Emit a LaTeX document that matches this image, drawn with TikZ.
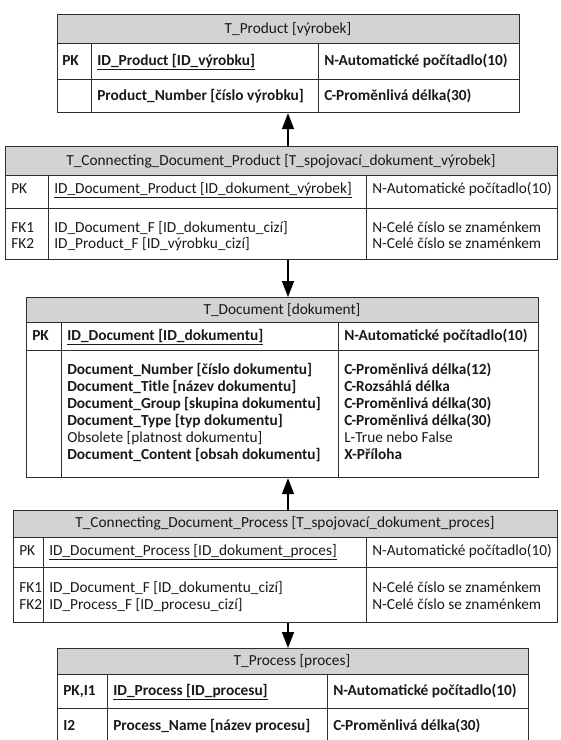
\documentclass[tikz,border=0pt]{standalone}
\usepackage{fontspec}
\setmainfont{Carlito}
\usetikzlibrary{arrows.meta}
\usepackage{xcolor}
\definecolor{headGray}{RGB}{211,211,211}
\definecolor{lineGray}{RGB}{45,45,45}
\definecolor{txtGray}{RGB}{25,25,25}
\newcommand{\tabfont}{\fontsize{11.5}{13}\selectfont}

\tikzset{
  frame/.style={draw=lineGray, line width=0.9pt, inner sep=0pt, anchor=north west},
  grid/.style={draw=lineGray, line width=0.75pt},
  head/.style={anchor=base, inner sep=0pt, text=txtGray, font=\tabfont},
  cell/.style={anchor=base west, inner sep=0pt, text=txtGray, font=\tabfont},
  cellb/.style={cell, font=\tabfont\bfseries},
  rel/.style={-{Triangle[width=9pt,length=12pt]}, line width=1.1pt, draw=black}
}

\begin{document}
\begin{tikzpicture}[x=0.75pt, y=-0.75pt]
    \useasboundingbox (0,0) rectangle (561,740);
    \clip (0,0) rectangle (561,740);
    \coordinate (ax) at (288,0);

    % T_Product
    \fill[headGray] (57,14) rectangle (519,43);
    \node[frame, minimum width=462*0.75pt, minimum height=98*0.75pt] (prod) at (57,14) {};
    \draw[grid] (57,43) -- (519,43) (57,79) -- (519,79) (91,43) -- (91,112) (318,43) -- (318,112);
    \node[head] (prodH) at (288,33) {T\_Product [výrobek]};
    \node[cellb] (prodPK) at (62,65) {PK};
    \node[cellb] (prodId) at (97,65) {\underline{ID\_Product [ID\_výrobku]}};
    \node[cellb] (prodIdT) at (324,65) {N-Automatické počítadlo(10)};
    \node[cellb] (prodNo) at (97,100) {Product\_Number [číslo výrobku]};
    \node[cellb] (prodNoT) at (324,100) {C-Proměnlivá délka(30)};

    % T_Connecting_Document_Product
    \fill[headGray] (5,146) rectangle (557,175);
    \node[frame, minimum width=552*0.75pt, minimum height=113*0.75pt] (cdp) at (5,146) {};
    \draw[grid] (5,175) -- (557,175) (5,208) -- (557,208) (48,175) -- (48,259) (366,175) -- (366,259);
    \node[head] (cdpH) at (281,165) {T\_Connecting\_Document\_Product [T\_spojovací\_dokument\_výrobek]};
    \node[cell] (cdpPK) at (11,193) {PK};
    \node[cell] (cdpId) at (54,193) {\underline{ID\_Document\_Product [ID\_dokument\_výrobek]}};
    \node[cell] (cdpIdT) at (372,193) {N-Automatické počítadlo(10)};
    \node[cell] (cdpFK1) at (11,232) {FK1};
    \node[cell] (cdpFK2) at (11,248) {FK2};
    \node[cell] (cdpDoc) at (54,232) {ID\_Document\_F [ID\_dokumentu\_cizí]};
    \node[cell] (cdpPrd) at (54,248) {ID\_Product\_F [ID\_výrobku\_cizí]};
    \node[cell] (cdpDocT) at (372,232) {N-Celé číslo se znaménkem};
    \node[cell] (cdpPrdT) at (372,248) {N-Celé číslo se znaménkem};

    % T_Document
    \fill[headGray] (26,297) rectangle (538,322);
    \node[frame, minimum width=512*0.75pt, minimum height=180*0.75pt] (doc) at (26,297) {};
    \draw[grid] (26,322) -- (538,322) (26,350) -- (538,350) (61,322) -- (61,477) (338,322) -- (338,477);
    \node[head] (docH) at (282,314) {T\_Document [dokument]};
    \node[cellb] (docPK) at (32,340) {PK};
    \node[cellb] (docId) at (67,340) {\underline{ID\_Document [ID\_dokumentu]}};
    \node[cellb] (docIdT) at (344,340) {N-Automatické počítadlo(10)};
    \node[cellb] (docNo) at (67,374) {Document\_Number [číslo dokumentu]};
    \node[cellb] (docNoT) at (344,374) {C-Proměnlivá délka(12)};
    \node[cellb] (docTi) at (67,391) {Document\_Title [název dokumentu]};
    \node[cellb] (docTiT) at (344,391) {C-Rozsáhlá délka};
    \node[cellb] (docGr) at (67,408) {Document\_Group [skupina dokumentu]};
    \node[cellb] (docGrT) at (344,408) {C-Proměnlivá délka(30)};
    \node[cellb] (docTy) at (67,425) {Document\_Type [typ dokumentu]};
    \node[cellb] (docTyT) at (344,425) {C-Proměnlivá délka(30)};
    \node[cell] (docOb) at (67,442) {Obsolete [platnost dokumentu]};
    \node[cell] (docObT) at (344,442) {L-True nebo False};
    \node[cellb] (docCo) at (67,459) {Document\_Content [obsah dokumentu]};
    \node[cellb] (docCoT) at (344,459) {X-Příloha};

    % T_Connecting_Document_Process
    \fill[headGray] (13,510) rectangle (557,537);
    \node[frame, minimum width=544*0.75pt, minimum height=112*0.75pt] (cdr) at (13,510) {};
    \draw[grid] (13,537) -- (557,537) (13,567) -- (557,567) (43,537) -- (43,622) (366,537) -- (366,622);
    \node[head] (cdrH) at (285,527) {T\_Connecting\_Document\_Process [T\_spojovací\_dokument\_proces]};
    \node[cell] (cdrPK) at (19,555) {PK};
    \node[cell] (cdrId) at (49,555) {\underline{ID\_Document\_Process [ID\_dokument\_proces]}};
    \node[cell] (cdrIdT) at (372,555) {N-Automatické počítadlo(10)};
    \node[cell] (cdrFK1) at (19,592) {FK1};
    \node[cell] (cdrFK2) at (19,609) {FK2};
    \node[cell] (cdrDoc) at (49,592) {ID\_Document\_F [ID\_dokumentu\_cizí]};
    \node[cell] (cdrPrc) at (49,609) {ID\_Process\_F [ID\_procesu\_cizí]};
    \node[cell] (cdrDocT) at (372,592) {N-Celé číslo se znaménkem};
    \node[cell] (cdrPrcT) at (372,609) {N-Celé číslo se znaménkem};

    % T_Process (cut off at the bottom)
    \fill[headGray] (57,648) rectangle (528,674);
    \node[frame, minimum width=471*0.75pt, minimum height=98*0.75pt] (proc) at (57,648) {};
    \draw[grid] (57,674) -- (528,674) (57,708) -- (528,708) (107,674) -- (107,746) (327,674) -- (327,746);
    \node[head] (procH) at (292,665) {T\_Process [proces]};
    \node[cellb] (procPK) at (63,695) {PK,I1};
    \node[cellb] (procId) at (113,695) {\underline{ID\_Process [ID\_procesu]}};
    \node[cellb] (procIdT) at (333,695) {N-Automatické počítadlo(10)};
    \node[cellb] (procI2) at (63,730) {I2};
    \node[cellb] (procNm) at (113,730) {Process\_Name [název procesu]};
    \node[cellb] (procNmT) at (333,730) {C-Proměnlivá délka(30)};

    % relations
    \draw[rel] (cdp.north -| ax) -- (prod.south -| ax);
    \draw[rel] (cdp.south -| ax) -- (doc.north -| ax);
    \draw[rel] (cdr.north -| ax) -- (doc.south -| ax);
    \draw[rel] (cdr.south -| ax) -- (proc.north -| ax);
\end{tikzpicture}
\end{document}
